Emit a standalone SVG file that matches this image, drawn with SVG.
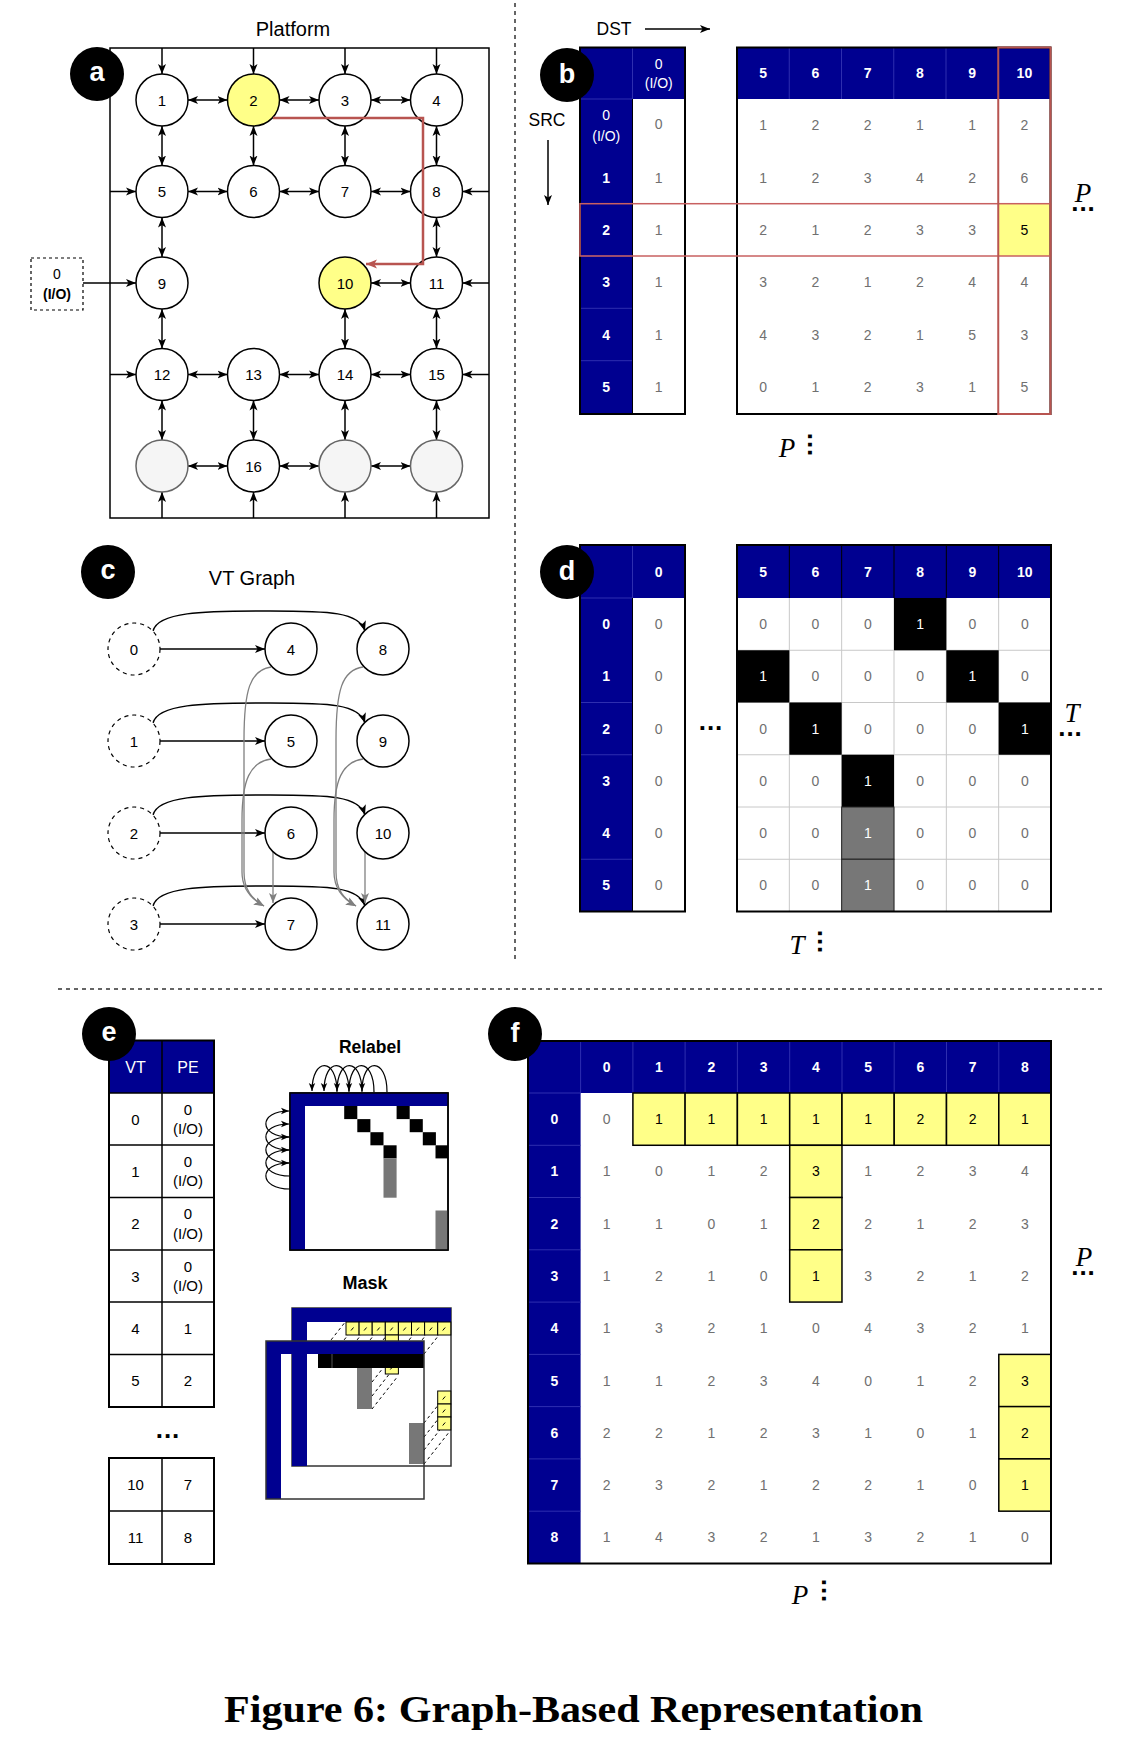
<svg xmlns="http://www.w3.org/2000/svg" width="1124" height="1764" viewBox="0 0 1124 1764">
<style>
text{font-family:"Liberation Sans",Arial,Helvetica,sans-serif;text-anchor:middle;dominant-baseline:central;font-size:14px;fill:#000}
.nd{fill:#fff;stroke:#000;stroke-width:1.5}
.ndy{fill:#ffff88;stroke:#000;stroke-width:1.5}
.ndg{fill:#f5f5f5;stroke:#666;stroke-width:1.5}
.ndd{fill:#fff;stroke:#000;stroke-width:1.2;stroke-dasharray:4 4}
.nl{font-size:15px}
.bi{stroke:#000;stroke-width:1.5;fill:none;marker-start:url(#ar);marker-end:url(#ar)}
.one{stroke:#000;stroke-width:1.5;fill:none;marker-end:url(#ar)}
.gy{stroke:#808080;stroke-width:1.3;fill:none;marker-end:url(#arg)}
.lp{stroke:#000;stroke-width:1.2;fill:none;marker-end:url(#ars)}
.navy{fill:#000090}
.w{fill:#fff}
.wb{fill:#fff;font-weight:bold}
.g{fill:#707070}
.bd{fill:none;stroke:#000;stroke-width:2}
.hd{stroke:#3a3ab8;stroke-width:0.8}
.gl{stroke:#c8c8c8;stroke-width:1}
.yc{fill:#ffff88;stroke:#000;stroke-width:1.5}
.ym{fill:#ffff88;stroke:#000;stroke-width:1}
.tk{stroke:#000;stroke-width:1}
.dl{stroke:#000;stroke-width:1;stroke-dasharray:3 3}
.lab{fill:#000}
.labt{fill:#fff;font-weight:bold;font-size:27px}
.it{font-family:"Liberation Serif","Times New Roman",serif;font-style:italic;font-size:27px}
.ita{font-family:"Liberation Serif","Times New Roman",serif;font-style:italic;font-size:27px;dominant-baseline:alphabetic}
.sd{font-family:"Liberation Sans",Arial,sans-serif;font-style:normal;font-weight:bold;font-size:26px;letter-spacing:1px}
.dots{font-weight:bold;font-size:26px;dominant-baseline:alphabetic;letter-spacing:1px}
.sep{stroke:#333;stroke-width:1.5;stroke-dasharray:4 4}
</style>
<defs>
<marker id="ar" viewBox="0 0 10 10" refX="10" refY="5" markerWidth="10" markerHeight="10" markerUnits="userSpaceOnUse" orient="auto-start-reverse"><path d="M0,1 L10,5 L0,9 L2.5,5 z" fill="#000"/></marker>
<marker id="arr" viewBox="0 0 10 10" refX="10" refY="5" markerWidth="11" markerHeight="11" markerUnits="userSpaceOnUse" orient="auto"><path d="M0,1 L10,5 L0,9 L2.5,5 z" fill="#b85450"/></marker>
<marker id="arg" viewBox="0 0 10 10" refX="10" refY="5" markerWidth="10" markerHeight="10" markerUnits="userSpaceOnUse" orient="auto"><path d="M0,1 L10,5 L0,9 L2.5,5 z" fill="#808080"/></marker>
<marker id="ars" viewBox="0 0 10 10" refX="10" refY="5" markerWidth="8" markerHeight="8" markerUnits="userSpaceOnUse" orient="auto"><path d="M0,1 L10,5 L0,9 L2.5,5 z" fill="#000"/></marker>
</defs>
<rect width="1124" height="1764" fill="#fff"/>

<!-- separators -->
<g id="separators">
<line class="sep" x1="515" y1="3" x2="515" y2="963"/>
<line class="sep" x1="58" y1="989" x2="1103" y2="989"/>
</g>

<!-- ================= PANEL A ================= -->
<g id="panel-a">
<text x="293" y="29" style="font-size:20px">Platform</text>
<rect x="110" y="48" width="379" height="470" fill="none" stroke="#000" stroke-width="1.5"/>
<g id="io-box"><rect x="31" y="258" width="52" height="52" fill="#fff" stroke="#000" stroke-width="1.2" stroke-dasharray="3 3"/>
<text x="57" y="274" style="font-size:14px">0</text><text x="57" y="294" style="font-size:14px;font-weight:bold">(I/O)</text></g>
</g>
<g id="connectors-a">
<line class="bi" x1="188" y1="100" x2="227.5" y2="100"/><line class="bi" x1="279.5" y1="100" x2="319" y2="100"/><line class="bi" x1="371" y1="100" x2="410.5" y2="100"/>
<line class="bi" x1="188" y1="191.5" x2="227.5" y2="191.5"/><line class="bi" x1="279.5" y1="191.5" x2="319" y2="191.5"/><line class="bi" x1="371" y1="191.5" x2="410.5" y2="191.5"/>
<line class="bi" x1="371" y1="283" x2="410.5" y2="283"/>
<line class="bi" x1="188" y1="374.5" x2="227.5" y2="374.5"/><line class="bi" x1="279.5" y1="374.5" x2="319" y2="374.5"/><line class="bi" x1="371" y1="374.5" x2="410.5" y2="374.5"/>
<line class="bi" x1="188" y1="466" x2="227.5" y2="466"/><line class="bi" x1="279.5" y1="466" x2="319" y2="466"/><line class="bi" x1="371" y1="466" x2="410.5" y2="466"/>
<line class="bi" x1="162" y1="126" x2="162" y2="165.5"/><line class="bi" x1="162" y1="217.5" x2="162" y2="257"/><line class="bi" x1="162" y1="309" x2="162" y2="348.5"/><line class="bi" x1="162" y1="400.5" x2="162" y2="440"/>
<line class="bi" x1="253.5" y1="126" x2="253.5" y2="165.5"/><line class="bi" x1="253.5" y1="400.5" x2="253.5" y2="440"/>
<line class="bi" x1="345" y1="126" x2="345" y2="165.5"/><line class="bi" x1="345" y1="309" x2="345" y2="348.5"/><line class="bi" x1="345" y1="400.5" x2="345" y2="440"/>
<line class="bi" x1="436.5" y1="126" x2="436.5" y2="165.5"/><line class="bi" x1="436.5" y1="217.5" x2="436.5" y2="257"/><line class="bi" x1="436.5" y1="309" x2="436.5" y2="348.5"/><line class="bi" x1="436.5" y1="400.5" x2="436.5" y2="440"/>
<line class="one" x1="162" y1="48" x2="162" y2="74"/><line class="one" x1="253.5" y1="48" x2="253.5" y2="74"/><line class="one" x1="345" y1="48" x2="345" y2="74"/><line class="one" x1="436.5" y1="48" x2="436.5" y2="74"/>
<line class="one" x1="162" y1="518" x2="162" y2="492"/><line class="one" x1="253.5" y1="518" x2="253.5" y2="492"/><line class="one" x1="345" y1="518" x2="345" y2="492"/><line class="one" x1="436.5" y1="518" x2="436.5" y2="492"/>
<line class="one" x1="110" y1="191.5" x2="136" y2="191.5"/><line class="one" x1="110" y1="374.5" x2="136" y2="374.5"/>
<line class="one" x1="83" y1="283" x2="136" y2="283"/>
<line class="one" x1="489" y1="191.5" x2="462.5" y2="191.5"/><line class="one" x1="489" y1="283" x2="462.5" y2="283"/><line class="one" x1="489" y1="374.5" x2="462.5" y2="374.5"/>
</g>
<g id="nodes-a">
<g id="a-n1"><circle class="nd" cx="162" cy="100" r="26"/><text class="nl" x="162" y="100">1</text></g>
<g id="a-n2"><circle class="ndy" cx="253.5" cy="100" r="26"/><text class="nl" x="253.5" y="100">2</text></g>
<g id="a-n3"><circle class="nd" cx="345" cy="100" r="26"/><text class="nl" x="345" y="100">3</text></g>
<g id="a-n4"><circle class="nd" cx="436.5" cy="100" r="26"/><text class="nl" x="436.5" y="100">4</text></g>
<g id="a-n5"><circle class="nd" cx="162" cy="191.5" r="26"/><text class="nl" x="162" y="191.5">5</text></g>
<g id="a-n6"><circle class="nd" cx="253.5" cy="191.5" r="26"/><text class="nl" x="253.5" y="191.5">6</text></g>
<g id="a-n7"><circle class="nd" cx="345" cy="191.5" r="26"/><text class="nl" x="345" y="191.5">7</text></g>
<g id="a-n8"><circle class="nd" cx="436.5" cy="191.5" r="26"/><text class="nl" x="436.5" y="191.5">8</text></g>
<g id="a-n9"><circle class="nd" cx="162" cy="283" r="26"/><text class="nl" x="162" y="283">9</text></g>
<g id="a-n10"><circle class="ndy" cx="345" cy="283" r="26"/><text class="nl" x="345" y="283">10</text></g>
<g id="a-n11"><circle class="nd" cx="436.5" cy="283" r="26"/><text class="nl" x="436.5" y="283">11</text></g>
<g id="a-n12"><circle class="nd" cx="162" cy="374.5" r="26"/><text class="nl" x="162" y="374.5">12</text></g>
<g id="a-n13"><circle class="nd" cx="253.5" cy="374.5" r="26"/><text class="nl" x="253.5" y="374.5">13</text></g>
<g id="a-n14"><circle class="nd" cx="345" cy="374.5" r="26"/><text class="nl" x="345" y="374.5">14</text></g>
<g id="a-n15"><circle class="nd" cx="436.5" cy="374.5" r="26"/><text class="nl" x="436.5" y="374.5">15</text></g>
<g id="a-g1"><circle class="ndg" cx="162" cy="466" r="26"/></g>
<g id="a-n16"><circle class="nd" cx="253.5" cy="466" r="26"/><text class="nl" x="253.5" y="466">16</text></g>
<g id="a-g2"><circle class="ndg" cx="345" cy="466" r="26"/></g>
<g id="a-g3"><circle class="ndg" cx="436.5" cy="466" r="26"/></g>
</g>
<g id="route-a"><path d="M273,118 H423 V264 H366" fill="none" stroke="#b85450" stroke-width="2.5" marker-end="url(#arr)"/></g>

<!-- ================= PANEL B ================= -->
<g id="panel-b">
<text x="614" y="29" style="font-size:17.5px">DST</text>
<line class="one" x1="645" y1="29" x2="710" y2="29"/>
<text x="547" y="120" style="font-size:17.5px">SRC</text>
<line class="one" x1="548" y1="140" x2="548" y2="205"/>
<rect x="632.5" y="99" width="52.5" height="315" fill="#fff"/>
<rect class="navy" x="580" y="47.5" width="105" height="51.5"/>
<rect class="navy" x="580" y="99" width="52.5" height="315"/>
<line class="hd" x1="632.5" y1="47.5" x2="632.5" y2="99"/>
<line class="hd" x1="580" y1="99" x2="632.5" y2="99"/>
<line class="hd" x1="580" y1="256" x2="632.5" y2="256"/><line class="hd" x1="580" y1="308.3" x2="632.5" y2="308.3"/><line class="hd" x1="580" y1="360.7" x2="632.5" y2="360.7"/>
<rect class="bd" x="580" y="47.5" width="105" height="366.5"/>
<line x1="632.5" y1="99" x2="632.5" y2="414" stroke="#000" stroke-width="1"/>
<text class="w" x="658.75" y="64">0</text><text class="w" x="658.75" y="83">(I/O)</text>
<text class="w" x="606.25" y="115">0</text><text class="w" x="606.25" y="136">(I/O)</text>
<text class="wb" x="606.25" y="177.5">1</text><text class="wb" x="606.25" y="229.8">2</text><text class="wb" x="606.25" y="282.2">3</text><text class="wb" x="606.25" y="334.5">4</text><text class="wb" x="606.25" y="386.8">5</text>
<text class="g" x="658.75" y="124">0</text><text class="g" x="658.75" y="177.5">1</text><text class="g" x="658.75" y="229.8">1</text><text class="g" x="658.75" y="282.2">1</text><text class="g" x="658.75" y="334.5">1</text><text class="g" x="658.75" y="386.8">1</text>
<rect x="737" y="99" width="313.5" height="315" fill="#fff"/>
<rect class="navy" x="737" y="47.5" width="313.5" height="51.5"/>
<line class="hd" x1="789.25" y1="47.5" x2="789.25" y2="99"/><line class="hd" x1="841.5" y1="47.5" x2="841.5" y2="99"/><line class="hd" x1="893.75" y1="47.5" x2="893.75" y2="99"/><line class="hd" x1="946" y1="47.5" x2="946" y2="99"/>
<rect x="998.25" y="203.7" width="52.25" height="52.3" fill="#ffff88"/>
<rect class="bd" x="737" y="47.5" width="313.5" height="366.5"/>
<text class="wb" x="763.1" y="73">5</text><text class="wb" x="815.4" y="73">6</text><text class="wb" x="867.6" y="73">7</text><text class="wb" x="919.9" y="73">8</text><text class="wb" x="972.1" y="73">9</text><text class="wb" x="1024.4" y="73">10</text>
<text class="g" x="763.1" y="125.2">1</text><text class="g" x="815.4" y="125.2">2</text><text class="g" x="867.6" y="125.2">2</text><text class="g" x="919.9" y="125.2">1</text><text class="g" x="972.1" y="125.2">1</text><text class="g" x="1024.4" y="125.2">2</text>
<text class="g" x="763.1" y="177.5">1</text><text class="g" x="815.4" y="177.5">2</text><text class="g" x="867.6" y="177.5">3</text><text class="g" x="919.9" y="177.5">4</text><text class="g" x="972.1" y="177.5">2</text><text class="g" x="1024.4" y="177.5">6</text>
<text class="g" x="763.1" y="229.8">2</text><text class="g" x="815.4" y="229.8">1</text><text class="g" x="867.6" y="229.8">2</text><text class="g" x="919.9" y="229.8">3</text><text class="g" x="972.1" y="229.8">3</text><text x="1024.4" y="229.8">5</text>
<text class="g" x="763.1" y="282.2">3</text><text class="g" x="815.4" y="282.2">2</text><text class="g" x="867.6" y="282.2">1</text><text class="g" x="919.9" y="282.2">2</text><text class="g" x="972.1" y="282.2">4</text><text class="g" x="1024.4" y="282.2">4</text>
<text class="g" x="763.1" y="334.5">4</text><text class="g" x="815.4" y="334.5">3</text><text class="g" x="867.6" y="334.5">2</text><text class="g" x="919.9" y="334.5">1</text><text class="g" x="972.1" y="334.5">5</text><text class="g" x="1024.4" y="334.5">3</text>
<text class="g" x="763.1" y="386.8">0</text><text class="g" x="815.4" y="386.8">1</text><text class="g" x="867.6" y="386.8">2</text><text class="g" x="919.9" y="386.8">3</text><text class="g" x="972.1" y="386.8">1</text><text class="g" x="1024.4" y="386.8">5</text>
<rect x="580" y="203.7" width="470.5" height="52.3" fill="none" stroke="#c86060" stroke-width="1.5"/>
<rect x="998.25" y="47.5" width="52.25" height="366.5" fill="none" stroke="#b85450" stroke-width="2"/>
<text class="ita" x="1083" y="202">P<tspan class="sd" x="1083.5" y="211">...</tspan></text>
<text class="it" x="787" y="448">P</text><text class="dots" x="808" y="445" transform="rotate(90 808 445)">...</text>
</g>

<!-- ================= PANEL C ================= -->
<g id="panel-c">
<text x="252" y="578" style="font-size:20px">VT Graph</text>
</g>
<g id="connectors-c">
<line class="one" x1="160" y1="649" x2="265" y2="649"/><line class="one" x1="160" y1="741" x2="265" y2="741"/><line class="one" x1="160" y1="833" x2="265" y2="833"/><line class="one" x1="160" y1="924" x2="265" y2="924"/>
<path class="one" d="M153,631 C158,612 200,611 270,611 C330,611 359,612 365,631"/>
<path class="one" d="M153,723 C158,704 200,703 270,703 C330,703 359,704 365,723"/>
<path class="one" d="M153,815 C158,796 200,795 270,795 C330,795 359,796 365,815"/>
<path class="one" d="M153,906 C158,887 200,886 270,886 C330,886 359,887 365,906"/>
<path class="gy" d="M271,667 C250,670 244,690 244,740 L244,872 C244,890 252,899 264,906"/>
<path class="gy" d="M271,759 C250,762 242,780 242,820 L242,872 C242,889 251,899 264,906"/>
<path class="gy" d="M273,852 L273,903"/>
<path class="gy" d="M363,667 C342,670 336,690 336,740 L336,872 C336,890 344,899 356,906"/>
<path class="gy" d="M363,759 C342,762 334,780 334,820 L334,872 C334,889 343,899 356,906"/>
<path class="gy" d="M365,852 L365,903"/>
</g>
<g id="nodes-c">
<g id="c-v0"><circle class="ndd" cx="134" cy="649" r="26"/><text class="nl" x="134" y="649">0</text></g>
<g id="c-v1"><circle class="ndd" cx="134" cy="741" r="26"/><text class="nl" x="134" y="741">1</text></g>
<g id="c-v2"><circle class="ndd" cx="134" cy="833" r="26"/><text class="nl" x="134" y="833">2</text></g>
<g id="c-v3"><circle class="ndd" cx="134" cy="924" r="26"/><text class="nl" x="134" y="924">3</text></g>
<g id="c-v4"><circle class="nd" cx="291" cy="649" r="26"/><text class="nl" x="291" y="649">4</text></g>
<g id="c-v5"><circle class="nd" cx="291" cy="741" r="26"/><text class="nl" x="291" y="741">5</text></g>
<g id="c-v6"><circle class="nd" cx="291" cy="833" r="26"/><text class="nl" x="291" y="833">6</text></g>
<g id="c-v7"><circle class="nd" cx="291" cy="924" r="26"/><text class="nl" x="291" y="924">7</text></g>
<g id="c-v8"><circle class="nd" cx="383" cy="649" r="26"/><text class="nl" x="383" y="649">8</text></g>
<g id="c-v9"><circle class="nd" cx="383" cy="741" r="26"/><text class="nl" x="383" y="741">9</text></g>
<g id="c-v10"><circle class="nd" cx="383" cy="833" r="26"/><text class="nl" x="383" y="833">10</text></g>
<g id="c-v11"><circle class="nd" cx="383" cy="924" r="26"/><text class="nl" x="383" y="924">11</text></g>
</g>

<!-- ================= PANEL D ================= -->
<g id="panel-d">
<rect x="632.5" y="598" width="52.5" height="313.5" fill="#fff"/>
<rect class="navy" x="580" y="545" width="105" height="53"/>
<rect class="navy" x="580" y="598" width="52.5" height="313.5"/>
<line class="hd" x1="632.5" y1="545" x2="632.5" y2="598"/>
<line class="hd" x1="580" y1="598" x2="632.5" y2="598"/><line class="hd" x1="580" y1="702.5" x2="632.5" y2="702.5"/><line class="hd" x1="580" y1="754.75" x2="632.5" y2="754.75"/><line class="hd" x1="580" y1="859.25" x2="632.5" y2="859.25"/>
<rect class="bd" x="580" y="545" width="105" height="366.5"/>
<line x1="632.5" y1="598" x2="632.5" y2="911.5" stroke="#000" stroke-width="1"/>
<text class="wb" x="658.75" y="571.5">0</text>
<text class="wb" x="606.25" y="624.1">0</text><text class="wb" x="606.25" y="676.4">1</text><text class="wb" x="606.25" y="728.6">2</text><text class="wb" x="606.25" y="780.9">3</text><text class="wb" x="606.25" y="833.1">4</text><text class="wb" x="606.25" y="885.4">5</text>
<text class="g" x="658.75" y="624.1">0</text><text class="g" x="658.75" y="676.4">0</text><text class="g" x="658.75" y="728.6">0</text><text class="g" x="658.75" y="780.9">0</text><text class="g" x="658.75" y="833.1">0</text><text class="g" x="658.75" y="885.4">0</text>
<text class="dots" x="711" y="730">...</text>
<rect x="737" y="598" width="314" height="313.5" fill="#fff"/>
<line class="gl" x1="789.33" y1="598" x2="789.33" y2="911.5"/><line class="gl" x1="841.67" y1="598" x2="841.67" y2="911.5"/><line class="gl" x1="894" y1="598" x2="894" y2="911.5"/><line class="gl" x1="946.33" y1="598" x2="946.33" y2="911.5"/><line class="gl" x1="998.67" y1="598" x2="998.67" y2="911.5"/>
<line class="gl" x1="737" y1="650.25" x2="1051" y2="650.25"/><line class="gl" x1="737" y1="702.5" x2="1051" y2="702.5"/><line class="gl" x1="737" y1="754.75" x2="1051" y2="754.75"/><line class="gl" x1="737" y1="807" x2="1051" y2="807"/><line class="gl" x1="737" y1="859.25" x2="1051" y2="859.25"/>
<rect x="894" y="598" width="52.33" height="52.25" fill="#000"/>
<rect x="737" y="650.25" width="52.33" height="52.25" fill="#000"/>
<rect x="946.33" y="650.25" width="52.33" height="52.25" fill="#000"/>
<rect x="789.33" y="702.5" width="52.33" height="52.25" fill="#000"/>
<rect x="998.67" y="702.5" width="52.33" height="52.25" fill="#000"/>
<rect x="841.67" y="754.75" width="52.33" height="52.25" fill="#000"/>
<rect x="841.67" y="807" width="52.33" height="52.25" fill="#777" stroke="#222" stroke-width="1"/>
<rect x="841.67" y="859.25" width="52.33" height="52.25" fill="#777" stroke="#222" stroke-width="1"/>
<rect class="navy" x="737" y="545" width="314" height="53"/>
<line x1="789.33" y1="545" x2="789.33" y2="598" stroke="#000" stroke-width="1"/><line x1="841.67" y1="545" x2="841.67" y2="598" stroke="#000" stroke-width="1"/><line x1="894" y1="545" x2="894" y2="598" stroke="#000" stroke-width="1"/><line x1="946.33" y1="545" x2="946.33" y2="598" stroke="#000" stroke-width="1"/><line x1="998.67" y1="545" x2="998.67" y2="598" stroke="#000" stroke-width="1"/>
<rect class="bd" x="737" y="545" width="314" height="366.5"/>
<text class="wb" x="763.2" y="571.5">5</text><text class="wb" x="815.5" y="571.5">6</text><text class="wb" x="867.8" y="571.5">7</text><text class="wb" x="920.2" y="571.5">8</text><text class="wb" x="972.5" y="571.5">9</text><text class="wb" x="1024.8" y="571.5">10</text>
<text class="g" x="763.2" y="624.1">0</text><text class="g" x="815.5" y="624.1">0</text><text class="g" x="867.8" y="624.1">0</text><text class="w" x="920.2" y="624.1">1</text><text class="g" x="972.5" y="624.1">0</text><text class="g" x="1024.8" y="624.1">0</text>
<text class="w" x="763.2" y="676.4">1</text><text class="g" x="815.5" y="676.4">0</text><text class="g" x="867.8" y="676.4">0</text><text class="g" x="920.2" y="676.4">0</text><text class="w" x="972.5" y="676.4">1</text><text class="g" x="1024.8" y="676.4">0</text>
<text class="g" x="763.2" y="728.6">0</text><text class="w" x="815.5" y="728.6">1</text><text class="g" x="867.8" y="728.6">0</text><text class="g" x="920.2" y="728.6">0</text><text class="g" x="972.5" y="728.6">0</text><text class="w" x="1024.8" y="728.6">1</text>
<text class="g" x="763.2" y="780.9">0</text><text class="g" x="815.5" y="780.9">0</text><text class="w" x="867.8" y="780.9">1</text><text class="g" x="920.2" y="780.9">0</text><text class="g" x="972.5" y="780.9">0</text><text class="g" x="1024.8" y="780.9">0</text>
<text class="g" x="763.2" y="833.1">0</text><text class="g" x="815.5" y="833.1">0</text><text class="w" x="867.8" y="833.1">1</text><text class="g" x="920.2" y="833.1">0</text><text class="g" x="972.5" y="833.1">0</text><text class="g" x="1024.8" y="833.1">0</text>
<text class="g" x="763.2" y="885.4">0</text><text class="g" x="815.5" y="885.4">0</text><text class="w" x="867.8" y="885.4">1</text><text class="g" x="920.2" y="885.4">0</text><text class="g" x="972.5" y="885.4">0</text><text class="g" x="1024.8" y="885.4">0</text>
<text class="ita" x="1072" y="722">T<tspan class="sd" x="1070.5" y="736">...</tspan></text>
<text class="it" x="797" y="945">T</text><text class="dots" x="818" y="942" transform="rotate(90 818 942)">...</text>
</g>

<!-- ================= PANEL E ================= -->
<g id="panel-e-table">
<rect x="109" y="1093" width="105" height="314" fill="#fff"/>
<rect class="navy" x="109" y="1040.5" width="105" height="52.5"/>
<line x1="162" y1="1040.5" x2="162" y2="1407" stroke="#000" stroke-width="1.5"/>
<line x1="109" y1="1093" x2="214" y2="1093" stroke="#000" stroke-width="1.5"/>
<line x1="109" y1="1145" x2="214" y2="1145" stroke="#000" stroke-width="1.5"/><line x1="109" y1="1197.5" x2="214" y2="1197.5" stroke="#000" stroke-width="1.5"/><line x1="109" y1="1250" x2="214" y2="1250" stroke="#000" stroke-width="1.5"/><line x1="109" y1="1302" x2="214" y2="1302" stroke="#000" stroke-width="1.5"/><line x1="109" y1="1354.5" x2="214" y2="1354.5" stroke="#000" stroke-width="1.5"/>
<rect class="bd" x="109" y="1040.5" width="105" height="366.5"/>
<text class="w" x="135.5" y="1067" style="font-size:16px">VT</text><text class="w" x="188" y="1067" style="font-size:16px">PE</text>
<text x="135.5" y="1119" style="font-size:15px">0</text><text x="188" y="1109" style="font-size:15px">0</text><text x="188" y="1128.5" style="font-size:15px">(I/O)</text>
<text x="135.5" y="1171" style="font-size:15px">1</text><text x="188" y="1161" style="font-size:15px">0</text><text x="188" y="1180.5" style="font-size:15px">(I/O)</text>
<text x="135.5" y="1223.5" style="font-size:15px">2</text><text x="188" y="1213.5" style="font-size:15px">0</text><text x="188" y="1233" style="font-size:15px">(I/O)</text>
<text x="135.5" y="1276" style="font-size:15px">3</text><text x="188" y="1266" style="font-size:15px">0</text><text x="188" y="1285.5" style="font-size:15px">(I/O)</text>
<text x="135.5" y="1328" style="font-size:15px">4</text><text x="188" y="1328" style="font-size:15px">1</text>
<text x="135.5" y="1380.5" style="font-size:15px">5</text><text x="188" y="1380.5" style="font-size:15px">2</text>
<text class="dots" x="168" y="1438">...</text>
<rect x="109" y="1458" width="105" height="106" fill="#fff" stroke="#000" stroke-width="2"/>
<line x1="162" y1="1458" x2="162" y2="1564" stroke="#000" stroke-width="1.5"/>
<line x1="109" y1="1511" x2="214" y2="1511" stroke="#000" stroke-width="1.5"/>
<text x="135.5" y="1484.5" style="font-size:15px">10</text><text x="188" y="1484.5" style="font-size:15px">7</text>
<text x="135.5" y="1537.5" style="font-size:15px">11</text><text x="188" y="1537.5" style="font-size:15px">8</text>
</g>

<g id="panel-e-relabel">
<text x="370" y="1047" style="font-size:17.5px;font-weight:bold">Relabel</text>
<rect x="290" y="1093" width="158" height="157" fill="#fff" stroke="#000" stroke-width="1.5"/>
<rect x="344.2" y="1106" width="13.1" height="13.1" fill="#000"/>
<rect x="357.3" y="1119.1" width="13.1" height="13.1" fill="#000"/>
<rect x="370.4" y="1132.2" width="13.1" height="13.1" fill="#000"/>
<rect x="383.5" y="1145.3" width="13.1" height="13.1" fill="#000"/>
<rect x="383.5" y="1158.4" width="13.1" height="39.3" fill="#777"/>
<rect x="396.6" y="1106" width="13.1" height="13.1" fill="#000"/>
<rect x="409.7" y="1119.1" width="13.1" height="13.1" fill="#000"/>
<rect x="422.8" y="1132.2" width="13.1" height="13.1" fill="#000"/>
<rect x="435.5" y="1145.3" width="12.5" height="13.1" fill="#000"/>
<rect x="435.5" y="1210.5" width="12.5" height="39.5" fill="#777"/>
<rect class="navy" x="290" y="1093" width="158" height="13"/>
<rect class="navy" x="290" y="1093" width="15" height="157"/>
<rect x="290" y="1093" width="158" height="157" fill="none" stroke="#000" stroke-width="1.5"/>
</g>
<g id="connectors-e">
<path class="lp" d="M337,1092 C337,1057 312,1057 312,1091"/>
<path class="lp" d="M349,1092 C349,1057 324,1057 324,1091"/>
<path class="lp" d="M362,1092 C362,1057 337,1057 337,1091"/>
<path class="lp" d="M374,1092 C374,1057 349,1057 349,1091"/>
<path class="lp" d="M387,1092 C387,1057 362,1057 362,1091"/>
<path class="lp" d="M290,1137 C258,1137 258,1111 289,1111"/>
<path class="lp" d="M290,1150 C258,1150 258,1124 289,1124"/>
<path class="lp" d="M290,1163 C258,1163 258,1137 289,1137"/>
<path class="lp" d="M290,1176 C258,1176 258,1150 289,1150"/>
<path class="lp" d="M290,1189 C258,1189 258,1163 289,1163"/>
</g>

<g id="panel-e-mask">
<text x="365" y="1283" style="font-size:18px;font-weight:bold">Mask</text>
<rect x="292" y="1308" width="159" height="158" fill="#fff" stroke="#333" stroke-width="1.5"/>
<rect class="navy" x="292" y="1308" width="159" height="14"/>
<rect class="navy" x="292" y="1308" width="15" height="158"/>
<line class="dl" x1="320" y1="1354" x2="346" y2="1321"/><line class="dl" x1="333" y1="1354" x2="359" y2="1321"/><line class="dl" x1="346" y1="1354" x2="372" y2="1321"/><line class="dl" x1="359" y1="1354" x2="385" y2="1321"/><line class="dl" x1="372" y1="1354" x2="398" y2="1321"/><line class="dl" x1="385" y1="1354" x2="411" y2="1321"/><line class="dl" x1="398" y1="1354" x2="424" y2="1321"/><line class="dl" x1="411" y1="1354" x2="437" y2="1321"/>
<line class="dl" x1="424" y1="1354" x2="450" y2="1321"/>
<line class="dl" x1="372" y1="1382" x2="398" y2="1349"/><line class="dl" x1="372" y1="1396" x2="398" y2="1363"/><line class="dl" x1="372" y1="1409" x2="398" y2="1376"/>
<line class="dl" x1="424" y1="1423" x2="450" y2="1390"/><line class="dl" x1="424" y1="1437" x2="450" y2="1404"/><line class="dl" x1="424" y1="1450" x2="450" y2="1417"/><line class="dl" x1="424" y1="1464" x2="450" y2="1431"/>
<rect class="ym" x="346" y="1322" width="13.1" height="13"/><rect class="ym" x="359.1" y="1322" width="13.1" height="13"/><rect class="ym" x="372.2" y="1322" width="13.1" height="13"/><rect class="ym" x="385.3" y="1322" width="13.1" height="13"/><rect class="ym" x="398.4" y="1322" width="13.1" height="13"/><rect class="ym" x="411.5" y="1322" width="13.1" height="13"/><rect class="ym" x="424.6" y="1322" width="13.1" height="13"/><rect class="ym" x="437.7" y="1322" width="13.1" height="13"/>
<rect class="ym" x="385.3" y="1335" width="13.1" height="13"/><rect class="ym" x="385.3" y="1348" width="13.1" height="13"/><rect class="ym" x="385.3" y="1361" width="13.1" height="13"/>
<rect class="ym" x="437.7" y="1391" width="13.1" height="13"/><rect class="ym" x="437.7" y="1404" width="13.1" height="13"/><rect class="ym" x="437.7" y="1417" width="13.1" height="13"/>
<path class="tk" d="M351,1330.5 l2.5,-3 M364.1,1330.5 l2.5,-3 M377.2,1330.5 l2.5,-3 M390.3,1330.5 l2.5,-3 M403.4,1330.5 l2.5,-3 M416.5,1330.5 l2.5,-3 M429.6,1330.5 l2.5,-3 M442.7,1330.5 l2.5,-3 M390.3,1369.5 l2.5,-3 M442.7,1399.5 l2.5,-3 M442.7,1412.5 l2.5,-3 M442.7,1425.5 l2.5,-3"/>
<rect x="318" y="1354" width="106" height="14" fill="#000"/>
<line x1="332" y1="1354" x2="332" y2="1368" stroke="#555" stroke-width="1"/>
<rect x="357" y="1368" width="15" height="41" fill="#777"/>
<rect x="409" y="1423" width="15" height="41" fill="#777"/>
<rect class="navy" x="266" y="1341" width="158" height="13"/>
<rect class="navy" x="266" y="1341" width="15" height="158"/>
<rect x="266" y="1341" width="158" height="158" fill="none" stroke="#333" stroke-width="1.5"/>
</g>

<!-- ================= PANEL F ================= -->
<g id="panel-f">
<rect x="580.6" y="1093" width="470.4" height="470.5" fill="#fff"/>
<rect class="navy" x="528" y="1041" width="523" height="52"/>
<rect class="navy" x="528" y="1093" width="52.6" height="470.5"/>
<line class="hd" x1="580.6" y1="1041" x2="580.6" y2="1093"/><line class="hd" x1="632.9" y1="1041" x2="632.9" y2="1093"/><line class="hd" x1="685.1" y1="1041" x2="685.1" y2="1093"/><line class="hd" x1="737.4" y1="1041" x2="737.4" y2="1093"/><line class="hd" x1="789.7" y1="1041" x2="789.7" y2="1093"/><line class="hd" x1="842" y1="1041" x2="842" y2="1093"/><line class="hd" x1="894.2" y1="1041" x2="894.2" y2="1093"/><line class="hd" x1="946.5" y1="1041" x2="946.5" y2="1093"/><line class="hd" x1="998.8" y1="1041" x2="998.8" y2="1093"/>
<line class="hd" x1="528" y1="1093" x2="580.6" y2="1093"/><line class="hd" x1="528" y1="1145.3" x2="580.6" y2="1145.3"/><line class="hd" x1="528" y1="1197.5" x2="580.6" y2="1197.5"/><line class="hd" x1="528" y1="1249.8" x2="580.6" y2="1249.8"/><line class="hd" x1="528" y1="1302.1" x2="580.6" y2="1302.1"/><line class="hd" x1="528" y1="1354.4" x2="580.6" y2="1354.4"/><line class="hd" x1="528" y1="1406.6" x2="580.6" y2="1406.6"/><line class="hd" x1="528" y1="1458.9" x2="580.6" y2="1458.9"/><line class="hd" x1="528" y1="1511.2" x2="580.6" y2="1511.2"/>
<rect class="yc" x="632.9" y="1093" width="52.27" height="52.27"/><rect class="yc" x="685.1" y="1093" width="52.27" height="52.27"/><rect class="yc" x="737.4" y="1093" width="52.27" height="52.27"/><rect class="yc" x="789.7" y="1093" width="52.27" height="52.27"/><rect class="yc" x="842" y="1093" width="52.27" height="52.27"/><rect class="yc" x="894.2" y="1093" width="52.27" height="52.27"/><rect class="yc" x="946.5" y="1093" width="52.27" height="52.27"/><rect class="yc" x="998.8" y="1093" width="52.27" height="52.27"/>
<rect class="yc" x="789.7" y="1145.3" width="52.27" height="52.27"/><rect class="yc" x="789.7" y="1197.5" width="52.27" height="52.27"/><rect class="yc" x="789.7" y="1249.8" width="52.27" height="52.27"/>
<rect class="yc" x="998.8" y="1354.4" width="52.27" height="52.27"/><rect class="yc" x="998.8" y="1406.6" width="52.27" height="52.27"/><rect class="yc" x="998.8" y="1458.9" width="52.27" height="52.27"/>
<rect class="bd" x="528" y="1041" width="523" height="522.5"/>
<text class="wb" x="606.7" y="1067">0</text><text class="wb" x="659" y="1067">1</text><text class="wb" x="711.3" y="1067">2</text><text class="wb" x="763.6" y="1067">3</text><text class="wb" x="815.9" y="1067">4</text><text class="wb" x="868.2" y="1067">5</text><text class="wb" x="920.4" y="1067">6</text><text class="wb" x="972.7" y="1067">7</text><text class="wb" x="1025" y="1067">8</text>
<text class="wb" x="554.3" y="1119.1">0</text><text class="wb" x="554.3" y="1171.4">1</text><text class="wb" x="554.3" y="1223.7">2</text><text class="wb" x="554.3" y="1276">3</text><text class="wb" x="554.3" y="1328.2">4</text><text class="wb" x="554.3" y="1380.5">5</text><text class="wb" x="554.3" y="1432.8">6</text><text class="wb" x="554.3" y="1485.1">7</text><text class="wb" x="554.3" y="1537.4">8</text>
<text class="g" x="606.7" y="1119.1">0</text><text x="659" y="1119.1">1</text><text x="711.3" y="1119.1">1</text><text x="763.6" y="1119.1">1</text><text x="815.9" y="1119.1">1</text><text x="868.2" y="1119.1">1</text><text x="920.4" y="1119.1">2</text><text x="972.7" y="1119.1">2</text><text x="1025" y="1119.1">1</text>
<text class="g" x="606.7" y="1171.4">1</text><text class="g" x="659" y="1171.4">0</text><text class="g" x="711.3" y="1171.4">1</text><text class="g" x="763.6" y="1171.4">2</text><text x="815.9" y="1171.4">3</text><text class="g" x="868.2" y="1171.4">1</text><text class="g" x="920.4" y="1171.4">2</text><text class="g" x="972.7" y="1171.4">3</text><text class="g" x="1025" y="1171.4">4</text>
<text class="g" x="606.7" y="1223.7">1</text><text class="g" x="659" y="1223.7">1</text><text class="g" x="711.3" y="1223.7">0</text><text class="g" x="763.6" y="1223.7">1</text><text x="815.9" y="1223.7">2</text><text class="g" x="868.2" y="1223.7">2</text><text class="g" x="920.4" y="1223.7">1</text><text class="g" x="972.7" y="1223.7">2</text><text class="g" x="1025" y="1223.7">3</text>
<text class="g" x="606.7" y="1276">1</text><text class="g" x="659" y="1276">2</text><text class="g" x="711.3" y="1276">1</text><text class="g" x="763.6" y="1276">0</text><text x="815.9" y="1276">1</text><text class="g" x="868.2" y="1276">3</text><text class="g" x="920.4" y="1276">2</text><text class="g" x="972.7" y="1276">1</text><text class="g" x="1025" y="1276">2</text>
<text class="g" x="606.7" y="1328.2">1</text><text class="g" x="659" y="1328.2">3</text><text class="g" x="711.3" y="1328.2">2</text><text class="g" x="763.6" y="1328.2">1</text><text class="g" x="815.9" y="1328.2">0</text><text class="g" x="868.2" y="1328.2">4</text><text class="g" x="920.4" y="1328.2">3</text><text class="g" x="972.7" y="1328.2">2</text><text class="g" x="1025" y="1328.2">1</text>
<text class="g" x="606.7" y="1380.5">1</text><text class="g" x="659" y="1380.5">1</text><text class="g" x="711.3" y="1380.5">2</text><text class="g" x="763.6" y="1380.5">3</text><text class="g" x="815.9" y="1380.5">4</text><text class="g" x="868.2" y="1380.5">0</text><text class="g" x="920.4" y="1380.5">1</text><text class="g" x="972.7" y="1380.5">2</text><text x="1025" y="1380.5">3</text>
<text class="g" x="606.7" y="1432.8">2</text><text class="g" x="659" y="1432.8">2</text><text class="g" x="711.3" y="1432.8">1</text><text class="g" x="763.6" y="1432.8">2</text><text class="g" x="815.9" y="1432.8">3</text><text class="g" x="868.2" y="1432.8">1</text><text class="g" x="920.4" y="1432.8">0</text><text class="g" x="972.7" y="1432.8">1</text><text x="1025" y="1432.8">2</text>
<text class="g" x="606.7" y="1485.1">2</text><text class="g" x="659" y="1485.1">3</text><text class="g" x="711.3" y="1485.1">2</text><text class="g" x="763.6" y="1485.1">1</text><text class="g" x="815.9" y="1485.1">2</text><text class="g" x="868.2" y="1485.1">2</text><text class="g" x="920.4" y="1485.1">1</text><text class="g" x="972.7" y="1485.1">0</text><text x="1025" y="1485.1">1</text>
<text class="g" x="606.7" y="1537.4">1</text><text class="g" x="659" y="1537.4">4</text><text class="g" x="711.3" y="1537.4">3</text><text class="g" x="763.6" y="1537.4">2</text><text class="g" x="815.9" y="1537.4">1</text><text class="g" x="868.2" y="1537.4">3</text><text class="g" x="920.4" y="1537.4">2</text><text class="g" x="972.7" y="1537.4">1</text><text class="g" x="1025" y="1537.4">0</text>
<text class="ita" x="1084" y="1266">P<tspan class="sd" x="1083.5" y="1275">...</tspan></text>
<text class="it" x="800" y="1595">P</text><text class="dots" x="822" y="1591" transform="rotate(90 822 1591)">...</text>
</g>

<g id="label-a"><circle class="lab" cx="97" cy="74" r="27"/><text class="labt" x="97" y="72">a</text></g>
<g id="label-b"><circle class="lab" cx="567" cy="75" r="27"/><text class="labt" x="567" y="74">b</text></g>
<g id="label-c"><circle class="lab" cx="108" cy="572" r="27"/><text class="labt" x="108" y="570">c</text></g>
<g id="label-d"><circle class="lab" cx="567" cy="572" r="27"/><text class="labt" x="567" y="571">d</text></g>
<g id="label-e"><circle class="lab" cx="109" cy="1034" r="27"/><text class="labt" x="109" y="1032">e</text></g>
<g id="label-f"><circle class="lab" cx="515" cy="1034" r="27"/><text class="labt" x="515" y="1033">f</text></g>

<text x="573.5" y="1722" style="font-family:'Liberation Serif','Times New Roman',serif;font-weight:bold;font-size:38px;dominant-baseline:alphabetic" textLength="699" lengthAdjust="spacingAndGlyphs">Figure 6: Graph-Based Representation</text>
</svg>
